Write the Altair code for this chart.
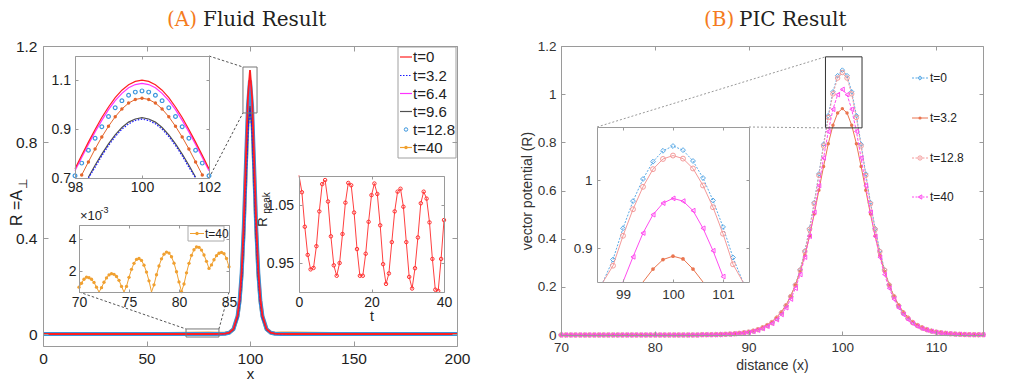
import altair as alt
import pandas as pd

SANS = "Liberation Sans Narrow, Liberation Sans, Arial Narrow, sans-serif"
SERIF = "DejaVu Serif, Liberation Serif, serif"

# ------------------------------------------------------------------ data
# Panel A main curves (fluid result), R vs x
a_x = [0, 50, 80, 85, 88, 90, 92, 94, 95, 96, 97, 98, 99, 100, 101, 102, 103, 104, 105, 106, 108, 110, 112, 115, 120, 150, 200]
a_t0 = [0, 0, 0, 0.0002, 0.0014, 0.0056, 0.021, 0.078, 0.146, 0.267, 0.462, 0.726, 0.986, 1.100, 0.986, 0.726, 0.462, 0.267, 0.146, 0.078, 0.021, 0.0056, 0.0014, 0.0002, 0, 0, 0]
a_t3_2 = [0, 0, 0, 0.0002, 0.0012, 0.0048, 0.018, 0.066, 0.125, 0.228, 0.395, 0.621, 0.843, 0.940, 0.843, 0.621, 0.395, 0.228, 0.125, 0.066, 0.018, 0.0048, 0.0012, 0.0002, 0, 0, 0]
a_t6_4 = [0, 0, 0, 0.0002, 0.0014, 0.0056, 0.021, 0.077, 0.145, 0.265, 0.458, 0.720, 0.977, 1.090, 0.977, 0.720, 0.458, 0.265, 0.145, 0.077, 0.021, 0.0056, 0.0014, 0.0002, 0, 0, 0]
a_t9_6 = [0, 0, 0, 0.0002, 0.0012, 0.0048, 0.018, 0.067, 0.126, 0.231, 0.399, 0.627, 0.852, 0.950, 0.852, 0.627, 0.399, 0.231, 0.126, 0.067, 0.018, 0.0048, 0.0012, 0.0002, 0, 0, 0]
a_t12_8 = [0, 0, 0, 0.0002, 0.0014, 0.0054, 0.020, 0.075, 0.140, 0.257, 0.444, 0.698, 0.948, 1.057, 0.948, 0.698, 0.444, 0.257, 0.140, 0.075, 0.020, 0.0054, 0.0014, 0.0002, 0, 0, 0]
a_t40 = [0, 0, 0.003, 0.0025, 0.002, 0.006, 0.020, 0.073, 0.136, 0.249, 0.431, 0.678, 0.921, 1.027, 0.921, 0.678, 0.431, 0.249, 0.136, 0.073, 0.020, 0.006, 0.002, 0.003, 0.003, 0, 0]

# Inset A1: peak zoom 98..102
a1_x = [98.0, 98.2, 98.4, 98.6, 98.8, 99.0, 99.2, 99.4, 99.6, 99.8, 100.0, 100.2, 100.4, 100.6, 100.8, 101.0, 101.2, 101.4, 101.6, 101.8, 102.0]
a1_t0 = [0.738, 0.793, 0.847, 0.899, 0.948, 0.991, 1.029, 1.060, 1.082, 1.096, 1.101, 1.096, 1.082, 1.060, 1.029, 0.991, 0.948, 0.899, 0.847, 0.793, 0.738]
a1_t3_2 = [None, None, 0.695, 0.744, 0.791, 0.833, 0.870, 0.900, 0.922, 0.936, 0.941, 0.936, 0.922, 0.900, 0.870, 0.833, 0.791, 0.744, 0.695, None, None]
a1_t6_4 = [0.730, 0.784, 0.837, 0.889, 0.936, 0.980, 1.017, 1.047, 1.070, 1.083, 1.088, 1.083, 1.070, 1.047, 1.017, 0.980, 0.936, 0.889, 0.837, 0.784, 0.730]
a1_t9_6 = [None, None, 0.703, 0.752, 0.798, 0.840, 0.877, 0.907, 0.929, 0.942, 0.947, 0.942, 0.929, 0.907, 0.877, 0.840, 0.798, 0.752, 0.703, None, None]
a1_t12_8 = [0.709, 0.761, 0.814, 0.863, 0.910, 0.952, 0.988, 1.017, 1.039, 1.052, 1.057, 1.052, 1.039, 1.017, 0.988, 0.952, 0.910, 0.863, 0.814, 0.761, 0.709]
a1_t40 = [None, 0.712, 0.766, 0.819, 0.868, 0.912, 0.951, 0.983, 1.007, 1.022, 1.027, 1.022, 1.007, 0.983, 0.951, 0.912, 0.868, 0.819, 0.766, 0.712, None]

# Inset A3: tail of t=40 (x 1e-3)
a3_x = [70 + 0.25 * i for i in range(61)]
a3_t40 = [1.00, 1.25, 1.50, 1.63, 1.60, 1.50, 1.30, 1.00, 0.62,
          0.97, 1.31, 1.58, 1.77, 1.85, 1.81, 1.67, 1.43, 1.05, 0.62,
          1.05, 1.62, 2.12, 2.50, 2.74, 2.80, 2.68, 2.38, 1.95, 1.40, 0.62,
          1.15, 1.78, 2.33, 2.78, 3.07, 3.20, 3.14, 2.91, 2.51, 1.97, 1.33, 0.72,
          1.20, 1.90, 2.50, 3.00, 3.35, 3.52, 3.50, 3.33, 3.02, 2.62, 2.18,
          2.40, 2.72, 2.98, 3.13, 3.18, 3.10, 2.80, 2.28]

# Inset A4: R_peak vs t
a4_t = [0, 0.8, 1.6, 2.4, 3.2, 4, 4.8, 5.6, 6.4, 7.2, 8, 8.8, 9.6, 10.4, 11.2, 12, 12.8, 13.6, 14.4, 15.2,
        16, 16.8, 17.6, 18.4, 19.2, 20, 20.8, 21.6, 22.4, 23.2, 24, 24.8, 25.6, 26.4, 27.2, 28, 28.8, 29.6,
        30.4, 31.2, 32, 32.8, 33.6, 34.4, 35.2, 36, 36.8, 37.6, 38.4, 39.2, 40]
a4_rpeak = [1.101, 1.072, 1.0125, 0.964, 0.939, 0.9415, 0.979, 1.039, 1.086, 1.093, 1.056, 0.996, 0.946, 0.928,
            0.95, 1.0, 1.054, 1.088, 1.084, 1.037, 0.974, 0.928, 0.928, 0.966, 1.021, 1.067, 1.087, 1.069, 1.015,
            0.948, 0.914, 0.932, 0.986, 1.039, 1.073, 1.078, 1.047, 0.986, 0.926, 0.906, 0.941, 0.994, 1.053,
            1.073, 1.061, 1.02, 0.957, 0.904, 0.902, 0.957, 1.024]

# Panel B main curves (PIC result)
b_x = [70 + 0.5 * i for i in range(91)]
b_t0 = [0, 0, 0, 0, 0, 0, 0, 0, 0, 0, 0, 0, 0, 0, 0, 0, 0, 0, 0, 0, 0, 0, 0, 0, 0, 0, 0, 0, 0, 0,
        0.001, 0.001, 0.001, 0.0015, 0.002, 0.003, 0.004, 0.005, 0.007, 0.009, 0.012, 0.016, 0.022, 0.029, 0.039,
        0.052, 0.069, 0.092, 0.122, 0.161, 0.209, 0.271, 0.349, 0.442, 0.550, 0.669, 0.792, 0.911, 1.010, 1.077, 1.100,
        1.077, 1.010, 0.911, 0.792, 0.669, 0.550, 0.442, 0.349, 0.271, 0.209, 0.161, 0.122, 0.092, 0.069, 0.052,
        0.039, 0.029, 0.022, 0.016, 0.012, 0.009, 0.007, 0.005, 0.004, 0.003, 0.002, 0.0015, 0.001, 0.001, 0.001]
b_t3_2 = [0, 0, 0, 0, 0, 0, 0, 0, 0, 0, 0, 0, 0, 0, 0, 0, 0, 0, 0, 0, 0, 0, 0, 0, 0, 0, 0, 0, 0, 0,
          0.001, 0.001, 0.002, 0.002, 0.003, 0.004, 0.005, 0.006, 0.008, 0.011, 0.014, 0.019, 0.025, 0.033, 0.043,
          0.056, 0.074, 0.096, 0.125, 0.162, 0.208, 0.264, 0.331, 0.411, 0.502, 0.601, 0.700, 0.794, 0.871, 0.922, 0.940,
          0.922, 0.871, 0.794, 0.700, 0.601, 0.502, 0.411, 0.331, 0.264, 0.208, 0.162, 0.125, 0.096, 0.074, 0.056,
          0.043, 0.033, 0.025, 0.019, 0.014, 0.011, 0.008, 0.006, 0.005, 0.004, 0.003, 0.002, 0.002, 0.001, 0.001]
b_t12_8 = [0, 0, 0, 0, 0, 0, 0, 0, 0, 0, 0, 0, 0, 0, 0, 0, 0, 0, 0, 0, 0, 0, 0, 0, 0, 0, 0, 0, 0, 0,
           0.001, 0.001, 0.001, 0.0015, 0.002, 0.003, 0.004, 0.005, 0.007, 0.009, 0.012, 0.016, 0.022, 0.029, 0.039,
           0.051, 0.069, 0.091, 0.121, 0.159, 0.207, 0.269, 0.346, 0.438, 0.545, 0.663, 0.785, 0.903, 1.001, 1.067, 1.090,
           1.067, 1.001, 0.903, 0.785, 0.663, 0.545, 0.438, 0.346, 0.269, 0.207, 0.159, 0.121, 0.091, 0.069, 0.051,
           0.039, 0.029, 0.022, 0.016, 0.012, 0.009, 0.007, 0.005, 0.004, 0.003, 0.002, 0.0015, 0.001, 0.001, 0.001]
b_t40 = [0, 0, 0, 0, 0, 0, 0, 0, 0, 0, 0, 0, 0, 0, 0, 0, 0, 0, 0, 0, 0, 0, 0, 0, 0, 0, 0, 0, 0, 0,
         0.001, 0.001, 0.001, 0.001, 0.002, 0.003, 0.003, 0.005, 0.006, 0.008, 0.011, 0.015, 0.020, 0.027, 0.036,
         0.048, 0.064, 0.085, 0.113, 0.149, 0.194, 0.251, 0.323, 0.410, 0.510, 0.620, 0.735, 0.845, 0.937, 0.998, 1.020,
         0.998, 0.937, 0.845, 0.735, 0.620, 0.510, 0.410, 0.323, 0.251, 0.194, 0.149, 0.113, 0.085, 0.064, 0.048,
         0.036, 0.027, 0.020, 0.015, 0.011, 0.008, 0.006, 0.005, 0.003, 0.003, 0.002, 0.001, 0.001, 0.001, 0.001]

# Inset B1: peak zoom
bi_x = [98.6, 98.8, 99.0, 99.2, 99.4, 99.6, 99.8, 100.0, 100.2, 100.4, 100.6, 100.8, 101.0, 101.2, 101.4]
bi_t0 = [0.835, 0.883, 0.929, 0.969, 1.0015, 1.027, 1.043, 1.050, 1.044, 1.028, 1.003, 0.970, 0.931, 0.886, 0.838]
bi_t3_2 = [None, None, None, None, 0.843, 0.869, 0.883, 0.888, 0.884, 0.869, 0.842, None, None, None, None]
bi_t12_8 = [0.826, 0.874, 0.918, 0.957, 0.990, 1.016, 1.031, 1.036, 1.0315, 1.017, 0.992, 0.960, 0.921, 0.876, 0.828]
bi_t40 = [None, None, 0.849, 0.887, 0.922, 0.949, 0.966, 0.973, 0.969, 0.955, 0.929, 0.896, 0.858, None, None]

# zoom rectangles (in main-axis data units)
zoomA1_x, zoomA1_y = [96.6, 103.4], [0.921, 1.1125]
zoomA3_x, zoomA3_y = [69.1, 85.0], [-0.0125, 0.021]
zoomB_x, zoomB_y = [98.2, 102.1], [0.86, 1.155]

legendA = ["t=0", "t=3.2", "t=6.4", "t=9.6", "t=12.8", "t=40"]
legendB = ["t=0", "t=3.2", "t=12.8", "t=40"]

# ------------------------------------------------------------------ layout
OX, OY = 43, 46
W, H = 940, 300


def box(x0, x1, y0, y1, xd, yd):
    return dict(xr=[x0 - OX, x1 - OX], yr=[y1 - OY, y0 - OY], xd=xd, yd=yd,
                x0=x0 - OX, x1=x1 - OX, y0=y0 - OY, y1=y1 - OY)


A = box(43, 457, 46, 346, [0, 200], [-0.05, 1.2])
A1 = box(75, 209, 56, 178, [98, 102], [0.7, 1.2])
A3 = box(79, 229, 225, 292, [70, 85], [0.7, 4.9])
A4 = box(299, 444, 176, 292, [0, 40], [0.9, 1.1])
B = box(561, 983, 46, 335, [70, 115], [0, 1.2])
B1 = box(597, 749, 127, 282, [98.48, 101.52], [0.85, 1.078])


def sx(b, clamp=False):
    return alt.Scale(domain=b['xd'], range=b['xr'], nice=False, zero=False, clamp=clamp)


def sy(b, clamp=False):
    return alt.Scale(domain=b['yd'], range=b['yr'], nice=False, zero=False, clamp=clamp)


def X(b, f='x'):
    return alt.X(f'{f}:Q', scale=sx(b), axis=None)


def Y(b, f='y', clamp=False):
    return alt.Y(f'{f}:Q', scale=sy(b, clamp), axis=None)


def inv(b, px_, py_):
    (x0, x1), (y0, y1) = b['xr'], b['yr']
    xd, yd = b['xd'], b['yd']
    return (xd[0] + (px_ - x0) / (x1 - x0) * (xd[1] - xd[0]),
            yd[0] + (py_ - y0) / (y1 - y0) * (yd[1] - yd[0]))


def line(df, b, f, color, width=1.0, dash=None, clamp=False):
    kw = dict(color=color, strokeWidth=width)
    if dash is not None:
        kw['strokeDash'] = dash
    return alt.Chart(df).mark_line(**kw).encode(x=X(b), y=Y(b, f, clamp))


def points(df, b, f, shape, color, size, filled, lo=None, hi=None, sw=1.0):
    ch = alt.Chart(df)
    if lo is not None:
        ch = ch.transform_filter(f"isValid(datum.{f}) && datum.{f} >= {lo} && datum.{f} <= {hi}")
    return ch.mark_point(shape=shape, size=size, filled=filled, color=color,
                         strokeWidth=sw, opacity=1).encode(x=X(b), y=Y(b, f))


LABEL_EXPR = "'' + datum.value"


def frame(b, xv, yv, size, color, dom, tick, xpad, ypad, xtitle='', ytitle='', xtp=0, ytp=0, tsize=None):
    df = pd.DataFrame({'x': b['xd'], 'y': b['yd']})
    base = alt.Chart(df).mark_point(opacity=0)
    lab = dict(labelFont=SANS, labelFontSize=size, labelColor=color, labelFlush=False,
               labelOverlap=False, labelExpr=LABEL_EXPR)
    ln = dict(grid=False, domainColor=dom, tickColor=dom, domainWidth=1, tickWidth=1, zindex=1)
    tt = dict(titleFont=SANS, titleFontSize=tsize or size, titleFontWeight='normal', titleColor=color)
    l1 = base.encode(
        x=alt.X('x:Q', scale=sx(b), axis=alt.Axis(orient='bottom', offset=b['y1'] - H, values=xv, ticks=False,
                                                  tickSize=0, labelPadding=xpad, title=xtitle, titlePadding=xtp,
                                                  **lab, **ln, **tt)),
        y=alt.Y('y:Q', scale=sy(b), axis=alt.Axis(orient='left', offset=-b['x0'], values=yv, ticks=False,
                                                  tickSize=0, labelPadding=ypad, title=ytitle, titlePadding=ytp,
                                                  **lab, **ln, **tt)))
    l2 = base.encode(
        x=alt.X('x:Q', scale=sx(b), axis=alt.Axis(orient='top', offset=-b['y1'], values=xv, labels=False,
                                                  domain=False, tickSize=tick, title='', **ln)),
        y=alt.Y('y:Q', scale=sy(b), axis=alt.Axis(orient='right', offset=b['x0'] - W, values=yv, labels=False,
                                                  domain=False, tickSize=tick, title='', **ln)))
    l3 = base.encode(
        x=alt.X('x:Q', scale=sx(b), axis=alt.Axis(orient='bottom', offset=b['y0'] - H, values=xv, labels=False,
                                                  tickSize=tick, title='', **ln)),
        y=alt.Y('y:Q', scale=sy(b), axis=alt.Axis(orient='left', offset=-b['x1'], values=yv, labels=False,
                                                  tickSize=tick, title='', **ln)))
    return [l1, l2, l3]


ONE = pd.DataFrame({'k': [0]})


def txt(s, x, y, size, color='#222222', font=SANS, angle=None, align='left', baseline='middle'):
    kw = dict(text=s, fontSize=size, color=color, font=font, align=align, baseline=baseline)
    if angle is not None:
        kw['angle'] = angle
    return alt.Chart(ONE).mark_text(**kw).encode(x=alt.value(x - OX), y=alt.value(y - OY))


def seg(x1, x2, y, color, width=1.0, dash=None):
    kw = dict(color=color, strokeWidth=width)
    if dash is not None:
        kw['strokeDash'] = dash
    return alt.Chart(ONE).mark_rule(**kw).encode(x=alt.value(x1 - OX), x2=alt.value(x2 - OX), y=alt.value(y - OY))


def mark(x, y, shape, color, size, filled):
    return alt.Chart(ONE).mark_point(shape=shape, size=size, filled=filled, color=color, opacity=1,
                                     strokeWidth=1).encode(x=alt.value(x - OX), y=alt.value(y - OY))


def frame_box(x0, x1, y0, y1, stroke):
    return alt.Chart(ONE).mark_rect(fill='white', stroke=stroke, strokeWidth=1).encode(
        x=alt.value(x0 - OX), x2=alt.value(x1 - OX), y=alt.value(y0 - OY), y2=alt.value(y1 - OY))


# colours
RED, BLUE, MAG, GRAY, CIRC, ORG, ORG1 = "#ff1f1f", "#1a1aff", "#ff33ff", "#505050", "#3a95dd", "#f0a030", "#e4662c"
BBLUE, BORG, BPINK, BMAG = "#59a9e6", "#ea7550", "#f49a9a", "#ff4cf0"

layers = []

# ---------------- panel A main
dfA = pd.DataFrame({'x': a_x, 't0': a_t0, 't3_2': a_t3_2, 't6_4': a_t6_4, 't9_6': a_t9_6,
                    't12_8': a_t12_8, 't40': a_t40})
layers += [
    line(dfA, A, 't40', ORG, 3.5),
    line(dfA, A, 't12_8', CIRC, 4.0),
    line(dfA, A, 't9_6', GRAY, 1.2),
    line(dfA, A, 't6_4', MAG, 1.2),
    line(dfA, A, 't3_2', BLUE, 1.2, [2, 1.5]),
    line(dfA, A, 't0', RED, 1.8),
]
layers += frame(A, [0, 50, 100, 150, 200], [0, 0.4, 0.8, 1.2], 15.5, '#1e1e1e', '#9a9a9a', 5, 5, 6,
                xtitle='x', xtp=0, tsize=15)

# zoom rectangles + connectors in A
rectA = pd.DataFrame({'x': [zoomA1_x[0], zoomA3_x[0]], 'x2': [zoomA1_x[1], zoomA3_x[1]],
                      'y': [zoomA1_y[0], zoomA3_y[0]], 'y2': [zoomA1_y[1], zoomA3_y[1]]})
layers.append(alt.Chart(rectA).mark_rect(fillOpacity=0, stroke='#777777', strokeWidth=1).encode(
    x=X(A, 'x'), x2='x2:Q', y=Y(A, 'y'), y2='y2:Q'))
c1 = inv(A, A1['x1'], A1['y0'])
c2 = inv(A, A1['x1'], A1['y1'])
c3 = inv(A, A3['x0'], A3['y1'])
c4 = inv(A, A3['x1'], A3['y1'])
conA = pd.DataFrame({'x': [c1[0], c2[0], c3[0], c4[0]],
                     'y': [c1[1], c2[1], c3[1], c4[1]],
                     'x2': [zoomA1_x[0], zoomA1_x[0], zoomA3_x[0], zoomA3_x[1]],
                     'y2': [zoomA1_y[1], zoomA1_y[0], zoomA3_y[1], zoomA3_y[1]]})
layers.append(alt.Chart(conA).mark_rule(color='#555555', strokeDash=[2.5, 2], strokeWidth=1).encode(
    x=X(A, 'x'), y=Y(A, 'y'), x2='x2:Q', y2='y2:Q'))

# inset A1
dfA1 = pd.DataFrame({'x': a1_x, 't0': a1_t0, 't3_2': a1_t3_2, 't6_4': a1_t6_4, 't9_6': a1_t9_6,
                     't12_8': a1_t12_8, 't40': a1_t40})
layers += [
    line(dfA1, A1, 't9_6', GRAY, 1.2, clamp=True),
    line(dfA1, A1, 't3_2', BLUE, 1.2, [1.5, 1.5], clamp=True),
    line(dfA1, A1, 't40', ORG1, 1.0, clamp=True),
    points(dfA1, A1, 't40', 'circle', ORG1, 12, True, 0.7, 1.2),
    points(dfA1, A1, 't12_8', 'circle', CIRC, 14, False, 0.7, 1.2, sw=1.2),
    line(dfA1, A1, 't6_4', MAG, 1.2),
    line(dfA1, A1, 't0', RED, 1.2),
]
layers += frame(A1, [98, 100, 102], [0.7, 0.9, 1.1], 14, '#1e1e1e', '#9a9a9a', 3, 2.5, 4.5)

# inset A3
dfA3 = pd.DataFrame({'x': a3_x, 't40': a3_t40})
layers += [
    line(dfA3, A3, 't40', ORG, 1.0, clamp=True),
    points(dfA3, A3, 't40', 'circle', ORG, 11, True, 0.7, 4.9),
]
layers += frame(A3, [70, 75, 80, 85], [2, 4], 14, '#1e1e1e', '#9a9a9a', 3, 3.5, 3)
layers += [txt("×10", 80, 216, 13), txt("-3", 100.5, 210, 9)]
layers += [frame_box(188, 224, 226, 241, '#aaaaaa'), seg(190, 204, 233.5, ORG), mark(197, 233.5, 'circle', ORG, 11, True),
           txt("t=40", 205, 233.5, 12)]

# inset A4
dfA4 = pd.DataFrame({'x': a4_t, 'r': a4_rpeak})
layers += [
    line(dfA4, A4, 'r', '#ff4040', 1.0),
    points(dfA4, A4, 'r', 'circle', '#ff3030', 12, False, 0.9, 1.1),
]
layers += frame(A4, [0, 20, 40], [0.95, 1.05], 14, '#1e1e1e', '#9a9a9a', 3, 3.5, 5.5, xtitle='t', xtp=0)
layers += [txt("R", 263, 222, 13, angle=270, align='center'), txt("peak", 267, 203, 10, angle=270, align='center')]

# legend A
legA_y = [57, 75.5, 93.5, 111.5, 129.5, 147.5]
layers += [frame_box(398, 456, 47, 158, '#a0a0a0'),
           seg(400, 412, legA_y[0], RED, 1.2),
           seg(400, 412, legA_y[1], BLUE, 1.2, [1.5, 1.5]),
           seg(400, 412, legA_y[2], MAG, 1.2),
           seg(400, 412, legA_y[3], GRAY, 1.2),
           mark(406, legA_y[4], 'circle', CIRC, 12, False),
           seg(400, 412, legA_y[5], ORG, 1.2),
           mark(406, legA_y[5], 'circle', ORG, 12, True)]
layers += [txt(lbl, 413, yy, 15) for lbl, yy in zip(legendA, legA_y)]

# A y title and panel title
layers += [txt("R =A", 17, 208, 16, angle=270, align='center'), txt("⊥", 23, 184, 12, angle=270, align='center')]
layers += [txt("(A)", 167, 26, 20, color='#f47b20', font=SERIF, baseline='alphabetic'),
           txt("Fluid Result", 203, 26, 20, color='#231f20', font=SERIF, baseline='alphabetic')]

# ---------------- panel B main
dfB = pd.DataFrame({'x': b_x, 't0': b_t0, 't3_2': b_t3_2, 't12_8': b_t12_8, 't40': b_t40})
layers += [
    line(dfB, B, 't0', BBLUE, 1.0, [2, 1.5]),
    points(dfB, B, 't0', 'diamond', BBLUE, 20, False),
    line(dfB, B, 't3_2', BORG, 1.0),
    points(dfB, B, 't3_2', 'circle', BORG, 12, True),
    line(dfB, B, 't12_8', BPINK, 1.0, [2, 1.5]),
    points(dfB, B, 't12_8', 'circle', BPINK, 20, False),
    line(dfB, B, 't40', BMAG, 1.0, [3, 1.5]),
    points(dfB, B, 't40', 'triangle-left', BMAG, 20, False),
]
layers += frame(B, [70, 80, 90, 100, 110], [0, 0.2, 0.4, 0.6, 0.8, 1, 1.2], 13.5, '#333333', '#9a9a9a', 4, 5.5, 5,
                xtitle='distance (x)', ytitle='vector potential (R)', xtp=4, ytp=3, tsize=14)

rectB = pd.DataFrame({'x': [zoomB_x[0]], 'x2': [zoomB_x[1]], 'y': [zoomB_y[0]], 'y2': [zoomB_y[1]]})
layers.append(alt.Chart(rectB).mark_rect(fillOpacity=0, stroke='#333333', strokeWidth=1).encode(
    x=X(B, 'x'), x2='x2:Q', y=Y(B, 'y'), y2='y2:Q'))
d1 = inv(B, B1['x0'], B1['y0'])
d2 = inv(B, B1['x1'], B1['y0'])
conB = pd.DataFrame({'x': [d1[0], d2[0]], 'y': [d1[1], d2[1]],
                     'x2': [zoomB_x[0], zoomB_x[0]], 'y2': [zoomB_y[1], zoomB_y[0]]})
layers.append(alt.Chart(conB).mark_rule(color='#999999', strokeDash=[2, 2], strokeWidth=1).encode(
    x=X(B, 'x'), y=Y(B, 'y'), x2='x2:Q', y2='y2:Q'))

# inset B1
dfB1 = pd.DataFrame({'x': bi_x, 't0': bi_t0, 't3_2': bi_t3_2, 't12_8': bi_t12_8, 't40': bi_t40})
lo, hi = 0.851, 1.078
layers += [
    line(dfB1, B1, 't0', BBLUE, 1.0, [2, 1.5], clamp=True),
    points(dfB1, B1, 't0', 'diamond', BBLUE, 24, False, lo, hi),
    line(dfB1, B1, 't12_8', BPINK, 1.0, clamp=True),
    points(dfB1, B1, 't12_8', 'circle', BPINK, 24, False, lo, hi),
    line(dfB1, B1, 't40', BMAG, 1.0, clamp=True),
    points(dfB1, B1, 't40', 'triangle-left', BMAG, 22, False, lo, hi),
    line(dfB1, B1, 't3_2', BORG, 1.0, clamp=True),
    points(dfB1, B1, 't3_2', 'circle', BORG, 14, True, lo, hi),
]
layers += frame(B1, [99, 100, 101], [0.9, 1], 13.5, '#333333', '#9a9a9a', 3, 5.5, 5)

# legend B
legB_y = [78, 118, 158, 197]
layers += [seg(912, 928, legB_y[0], BBLUE, 1.0, [2, 1.5]), mark(920, legB_y[0], 'diamond', BBLUE, 18, False),
           seg(912, 928, legB_y[1], BORG, 1.0), mark(920, legB_y[1], 'circle', BORG, 10, True),
           seg(912, 928, legB_y[2], BPINK, 1.0, [2, 1.5]), mark(920, legB_y[2], 'circle', BPINK, 18, False),
           seg(912, 928, legB_y[3], BMAG, 1.0, [2, 1.5]), mark(920, legB_y[3], 'triangle-left', BMAG, 18, False)]
layers += [txt(lbl, 930, yy, 12, color='#222222') for lbl, yy in zip(legendB, legB_y)]

layers += [txt("(B)", 704, 26, 20, color='#f47b20', font=SERIF, baseline='alphabetic'),
           txt("PIC Result", 739, 26, 20, color='#231f20', font=SERIF, baseline='alphabetic')]

chart = alt.layer(*layers).resolve_scale(x='independent', y='independent').properties(
    width=W, height=H,
    autosize=alt.AutoSizeParams(type='none'),
    padding={'left': OX - 8, 'top': OY - 8, 'right': 30, 'bottom': 36},
).configure_view(strokeWidth=0)

chart.save("out.html", embed_options={"renderer": "svg", "actions": False})
